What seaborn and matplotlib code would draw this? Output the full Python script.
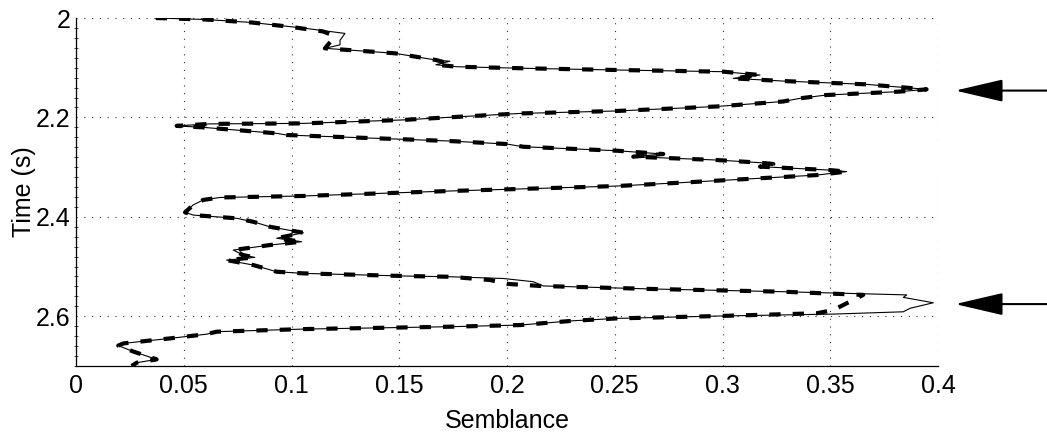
import numpy as np
import matplotlib
matplotlib.use("Agg")
import matplotlib.pyplot as plt
from matplotlib.ticker import MultipleLocator
import seaborn as sns

# semblance traced along time (path order, small loops included)
solid_semblance = [0.037, 0.060, 0.0815, 0.105, 0.1248, 0.1225, 0.1225, 0.1155, 0.148, 0.167,
                   0.1735, 0.167, 0.1766, 0.206, 0.251, 0.3004, 0.3174, 0.305, 0.328, 0.3669,
                   0.3947, 0.3824, 0.348, 0.336, 0.328, 0.2973, 0.251, 0.206, 0.178, 0.1519,
                   0.1055, 0.0622, 0.0467, 0.059, 0.0931, 0.0978, 0.1519, 0.1735, 0.1998, 0.2076,
                   0.251, 0.2725, 0.2586, 0.2973, 0.3174, 0.3236, 0.3174, 0.35, 0.3576, 0.3437,
                   0.2818, 0.251, 0.2153, 0.1735, 0.1055, 0.0668, 0.059, 0.0544, 0.0506, 0.0544,
                   0.0746, 0.0823, 0.090, 0.1055, 0.0931, 0.1047, 0.090, 0.073, 0.0776, 0.083,
                   0.0699, 0.0823, 0.0931, 0.1055, 0.1519, 0.1735, 0.1983, 0.2122, 0.2168, 0.2664,
                   0.3282, 0.3855, 0.3839, 0.3978, 0.387, 0.3839, 0.3514, 0.2973, 0.251, 0.2308,
                   0.206, 0.1735, 0.1055, 0.0653, 0.0606, 0.0436, 0.022, 0.0196, 0.0266, 0.0374,
                   0.0282, 0.0258]
solid_time = [2.000, 2.003, 2.009, 2.020, 2.031, 2.045, 2.054, 2.061, 2.071, 2.0845,
              2.087, 2.094, 2.098, 2.101, 2.1046, 2.108, 2.1147, 2.1214, 2.1268, 2.1335,
              2.1435, 2.148, 2.155, 2.1616, 2.168, 2.178, 2.187, 2.192, 2.1986, 2.205,
              2.212, 2.213, 2.217, 2.220, 2.232, 2.2354, 2.244, 2.2475, 2.2535, 2.259,
              2.267, 2.2736, 2.279, 2.2857, 2.291, 2.2937, 2.299, 2.306, 2.309, 2.316,
              2.331, 2.338, 2.3427, 2.348, 2.358, 2.361, 2.366, 2.376, 2.391, 2.3964,
              2.403, 2.410, 2.420, 2.432, 2.443, 2.450, 2.4567, 2.4668, 2.477, 2.4815,
              2.487, 2.497, 2.5104, 2.5137, 2.519, 2.5205, 2.524, 2.5305, 2.539, 2.545,
              2.5506, 2.557, 2.562, 2.5728, 2.584, 2.591, 2.5956, 2.5996, 2.6043, 2.609,
              2.6177, 2.621, 2.6258, 2.631, 2.636, 2.6445, 2.6546, 2.659, 2.671, 2.6867,
              2.6934, 2.700]

dashed_semblance = [0.037, 0.060, 0.0815, 0.100, 0.1146, 0.1195, 0.118, 0.1155, 0.148, 0.167,
                    0.170, 0.167, 0.1766, 0.206, 0.251, 0.3004, 0.3174, 0.305, 0.328, 0.3669,
                    0.3947, 0.3824, 0.348, 0.336, 0.328, 0.2973, 0.251, 0.206, 0.178, 0.1519,
                    0.1055, 0.0622, 0.0467, 0.059, 0.0931, 0.0978, 0.1519, 0.1735, 0.1998, 0.2076,
                    0.251, 0.2725, 0.2586, 0.2973, 0.3174, 0.3236, 0.3174, 0.35, 0.3576, 0.3437,
                    0.2818, 0.251, 0.2153, 0.1735, 0.1055, 0.0668, 0.059, 0.0544, 0.0506, 0.0544,
                    0.0746, 0.0823, 0.090, 0.1055, 0.0931, 0.1047, 0.090, 0.073, 0.0776, 0.083,
                    0.0699, 0.0823, 0.0931, 0.1055, 0.1519, 0.1735, 0.192, 0.2006, 0.2153, 0.2664,
                    0.3282, 0.3653, 0.3608, 0.3514, 0.3437, 0.2973, 0.251, 0.2308, 0.206, 0.1735,
                    0.1055, 0.0653, 0.0606, 0.0436, 0.022, 0.0196, 0.0266, 0.0374, 0.0282, 0.0258]
dashed_time = [2.000, 2.003, 2.009, 2.018, 2.027, 2.035, 2.048, 2.061, 2.071, 2.0845,
               2.088, 2.094, 2.098, 2.101, 2.1046, 2.108, 2.1147, 2.1214, 2.1268, 2.1335,
               2.1435, 2.148, 2.155, 2.1616, 2.168, 2.178, 2.187, 2.192, 2.1986, 2.205,
               2.212, 2.213, 2.217, 2.220, 2.232, 2.2354, 2.244, 2.2475, 2.2535, 2.259,
               2.267, 2.2736, 2.279, 2.2857, 2.291, 2.2937, 2.299, 2.306, 2.309, 2.316,
               2.331, 2.338, 2.3427, 2.348, 2.358, 2.361, 2.366, 2.376, 2.391, 2.3964,
               2.403, 2.410, 2.420, 2.432, 2.443, 2.450, 2.4567, 2.4668, 2.477, 2.4815,
               2.487, 2.497, 2.5104, 2.5137, 2.519, 2.5205, 2.527, 2.535, 2.539, 2.545,
               2.5506, 2.557, 2.567, 2.5875, 2.594, 2.5996, 2.6043, 2.609, 2.6177, 2.621,
               2.6258, 2.631, 2.636, 2.6445, 2.6546, 2.659, 2.671, 2.6867, 2.6934, 2.700]

arrow_times = [2.146, 2.5755]

sns.set_style("white")
plt.rcParams['font.family'] = ['Liberation Sans Narrow', 'Liberation Sans', 'DejaVu Sans']

fig = plt.figure(figsize=(10.47, 4.36), dpi=100)
ax = fig.add_axes([0.0726, 0.1606, 0.8233, 0.7981])

sns.lineplot(x=solid_semblance, y=solid_time, sort=False, estimator=None,
             color='k', linewidth=0.8, ax=ax)
sns.lineplot(x=dashed_semblance, y=dashed_time, sort=False, estimator=None,
             color='k', linewidth=3.0, linestyle=(0, (2.7, 2.9)), ax=ax)

ax.set_xlim(0, 0.4)
ax.set_ylim(2.7, 2.0)
ax.set_xticks(np.arange(0, 0.401, 0.05))
ax.set_xticklabels(['0', '0.05', '0.1', '0.15', '0.2', '0.25', '0.3', '0.35', '0.4'])
ax.set_yticks([2.0, 2.2, 2.4, 2.6])
ax.set_yticklabels(['2', '2.2', '2.4', '2.6'])
ax.yaxis.set_minor_locator(MultipleLocator(0.02))

ax.grid(True, which='major', color='#333333', linestyle=(0, (1, 6)), linewidth=0.8)
ax.tick_params(which='major', direction='in', length=4, width=0.8, labelsize=18, colors='k')
ax.tick_params(axis='x', pad=6)
ax.tick_params(axis='y', pad=4)
ax.tick_params(which='minor', axis='y', direction='inout', length=3, width=0.6, left=True)

for s in ['top', 'right']:
    ax.spines[s].set_visible(False)
for s in ['left', 'bottom']:
    ax.spines[s].set_color('k')
    ax.spines[s].set_linewidth(0.9)

ax.set_xlabel('Semblance', fontsize=18, labelpad=8, color='k')
ax.set_ylabel('Time (s)', fontsize=18, labelpad=0, color='k')

for t in arrow_times:
    ax.annotate('', xy=(0.408, t), xytext=(0.452, t), xycoords='data',
                annotation_clip=False,
                arrowprops=dict(arrowstyle='-|>,head_length=3.0,head_width=0.7',
                                color='k', lw=1.5, shrinkA=0, shrinkB=0))

fig.savefig('out.png', dpi=100)
